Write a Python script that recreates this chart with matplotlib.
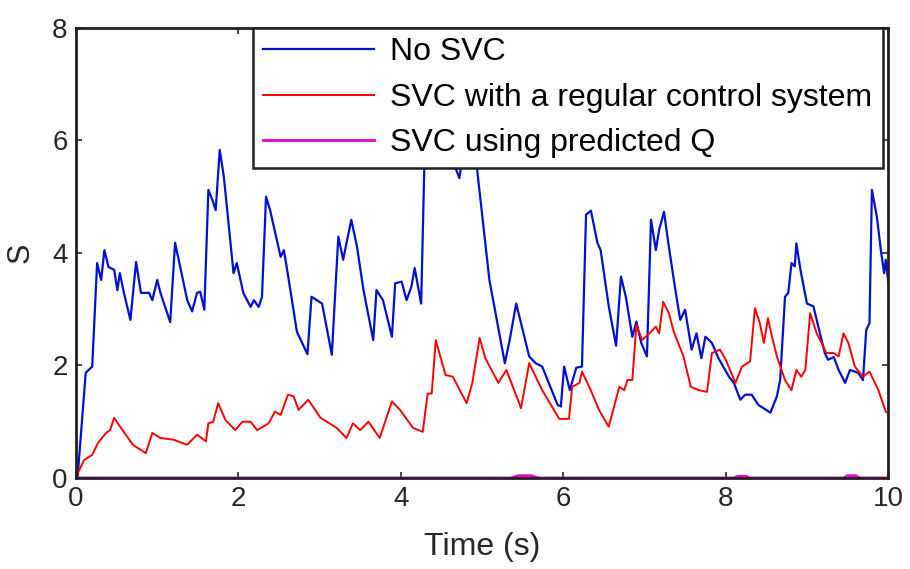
import matplotlib
matplotlib.use('Agg')
import matplotlib.pyplot as plt
import numpy as np

plt.rcParams['font.family'] = ['Liberation Sans', 'DejaVu Sans']

# blue: no SVC
t_blue = [0.0, 0.02, 0.12, 0.2, 0.26, 0.31, 0.35, 0.4, 0.47, 0.51, 0.54, 0.59, 0.67, 0.74, 0.8, 0.9,
          0.94, 1.0, 1.04, 1.16, 1.22, 1.29, 1.37, 1.43, 1.49, 1.53, 1.58, 1.63, 1.68, 1.72, 1.77,
          1.82, 1.94, 1.98, 2.06, 2.15, 2.19, 2.25, 2.29, 2.34, 2.39, 2.52, 2.56, 2.6, 2.72, 2.85,
          2.9, 3.03, 3.15, 3.23, 3.29, 3.33, 3.39, 3.46, 3.54, 3.66, 3.7, 3.78, 3.89, 3.93, 4.01,
          4.07, 4.13, 4.17, 4.25, 4.29, 4.35, 4.45, 4.55, 4.65, 4.72, 4.78, 4.93, 5.09, 5.28, 5.34,
          5.42, 5.58, 5.66, 5.74, 5.93, 5.97, 6.01, 6.08, 6.16, 6.23, 6.28, 6.34, 6.42, 6.46, 6.56,
          6.65, 6.71, 6.77, 6.85, 6.9, 6.96, 7.03, 7.08, 7.14, 7.18, 7.24, 7.3, 7.38, 7.44, 7.5,
          7.58, 7.64, 7.7, 7.75, 7.83, 7.91, 8.04, 8.1, 8.18, 8.24, 8.32, 8.4, 8.55, 8.63, 8.67,
          8.73, 8.77, 8.81, 8.85, 8.87, 8.92, 9.0, 9.08, 9.14, 9.22, 9.26, 9.33, 9.39, 9.47, 9.53,
          9.63, 9.69, 9.73, 9.77, 9.8, 9.86, 9.91, 9.95, 9.97, 10.0]
s_blue = [0.0, 0.02, 1.87, 1.98, 3.82, 3.52, 4.05, 3.75, 3.7, 3.34, 3.64, 3.29, 2.81, 3.84, 3.29, 3.29,
          3.16, 3.52, 3.29, 2.77, 4.18, 3.7, 3.16, 2.96, 3.29, 3.31, 2.99, 5.12, 4.94, 4.76, 5.83,
          5.36, 3.64, 3.82, 3.29, 3.04, 3.16, 3.04, 3.22, 5.0, 4.76, 3.93, 4.05, 3.7, 2.6, 2.2,
          3.22, 3.1, 2.19, 4.29, 3.88, 4.17, 4.59, 4.11, 3.34, 2.45, 3.34, 3.16, 2.51, 3.46, 3.49,
          3.16, 3.4, 3.73, 3.1, 5.6, 6.2, 6.0, 6.1, 5.6, 5.33, 5.9, 5.6, 3.52, 2.04, 2.45,
          3.1, 2.16, 2.04, 1.98, 1.3, 1.27, 1.98, 1.56, 1.96, 1.98, 4.68, 4.75, 4.18, 4.05, 3.05,
          2.35, 3.58, 3.22, 2.51, 2.78, 2.4, 2.16, 4.59, 4.05, 4.41, 4.73, 4.11, 3.34, 2.81, 2.99,
          2.28, 2.57, 2.13, 2.51, 2.4, 2.13, 1.8, 1.69, 1.39, 1.48, 1.48, 1.3, 1.16, 1.45, 1.74,
          3.22, 3.29, 3.82, 3.76, 4.17, 3.7, 3.1, 3.05, 2.69, 2.22, 2.1, 2.15, 1.92, 1.69, 1.92,
          1.87, 1.74, 2.63, 2.75, 5.12, 4.65, 4.05, 3.64, 3.88, 3.5]

# red: SVC with a regular control system
t_red = [0.0, 0.02, 0.1, 0.2, 0.27, 0.37, 0.42, 0.47, 0.53, 0.7, 0.86, 0.94, 1.04, 1.2, 1.37, 1.49,
         1.6, 1.63, 1.69, 1.75, 1.84, 1.96, 2.05, 2.15, 2.23, 2.37, 2.45, 2.52, 2.61, 2.68, 2.74,
         2.86, 3.01, 3.21, 3.33, 3.41, 3.5, 3.6, 3.74, 3.89, 3.99, 4.15, 4.27, 4.33, 4.38, 4.43,
         4.55, 4.64, 4.81, 4.88, 4.97, 5.04, 5.2, 5.3, 5.48, 5.58, 5.74, 5.95, 6.07, 6.11, 6.2,
         6.23, 6.32, 6.44, 6.56, 6.69, 6.75, 6.79, 6.85, 6.9, 6.97, 7.06, 7.14, 7.18, 7.23, 7.3,
         7.36, 7.48, 7.57, 7.67, 7.77, 7.83, 7.93, 8.0, 8.12, 8.2, 8.3, 8.36, 8.42, 8.47, 8.52,
         8.57, 8.63, 8.73, 8.81, 8.87, 8.93, 8.98, 9.04, 9.12, 9.18, 9.24, 9.33, 9.39, 9.45, 9.51,
         9.59, 9.69, 9.77, 9.88, 9.97, 10.0]
s_red = [0.0, 0.08, 0.32, 0.41, 0.62, 0.8, 0.85, 1.07, 0.94, 0.59, 0.44, 0.8, 0.71, 0.68, 0.59, 0.77,
         0.65, 0.97, 1.0, 1.33, 1.03, 0.85, 1.0, 1.0, 0.85, 0.97, 1.18, 1.12, 1.48, 1.45, 1.21,
         1.39, 1.07, 0.89, 0.71, 0.97, 0.85, 1.0, 0.71, 1.36, 1.21, 0.89, 0.82, 1.5, 1.5, 2.45,
         1.83, 1.8, 1.33, 1.69, 2.49, 2.13, 1.69, 1.92, 1.24, 2.04, 1.56, 1.05, 1.05, 1.62, 1.69,
         1.89, 1.62, 1.21, 0.91, 1.62, 1.56, 1.74, 1.74, 2.72, 2.45, 2.57, 2.69, 2.57, 3.13, 2.93,
         2.6, 2.16, 1.62, 1.56, 1.53, 2.22, 2.28, 2.1, 1.69, 1.98, 2.07, 3.02, 2.75, 2.4, 2.84,
         2.51, 2.16, 1.74, 1.56, 1.92, 1.8, 1.92, 2.93, 2.57, 2.4, 2.22, 2.22, 2.16, 2.57, 2.4,
         1.98, 1.8, 1.89, 1.56, 1.18, 1.15]

# magenta: SVC using predicted Q
t_mag = [0.0, 5.35, 5.45, 5.6, 5.7, 8.1, 8.15, 8.25, 8.3, 9.45, 9.5, 9.6, 9.65, 10.0]
s_mag = [0.0, 0.0, 0.04, 0.04, 0.0, 0.0, 0.03, 0.03, 0.0, 0.0, 0.04, 0.04, 0.0, 0.0]

fig = plt.figure(figsize=(9.1, 5.69), dpi=100)
ax = fig.add_axes([0.0835, 0.16, 0.8925, 0.791])

ax.plot(t_blue, s_blue, color='#0010d0', lw=1.6, label='No SVC')
ax.plot(t_red, s_red, color='#ff0000', lw=1.4, label='SVC with a regular control system')
ax.plot(t_mag, s_mag, color='#e000d0', lw=2.0, label='SVC using predicted Q')

ax.set_xlim(0, 10)
ax.set_ylim(0, 8)
ax.set_xticks([0, 2, 4, 6, 8, 10])
ax.set_yticks([0, 2, 4, 6, 8])
ax.tick_params(direction='in', length=4, width=1.2, top=True, right=True,
               labelsize=20, colors='#262626', pad=6)
for sp in ax.spines.values():
    sp.set_linewidth(2)
    sp.set_color('#202020')

ax.set_xlabel('Time (s)', fontsize=23, color='#262626', labelpad=14)
ax.set_ylabel('S', fontsize=22, color='#262626', labelpad=12)

leg = ax.legend(loc='upper left', bbox_to_anchor=(0.218, 1.0, 0.776, 0), mode='expand',
                fontsize=23, handlelength=3.5, handletextpad=0.5, labelspacing=0.48,
                borderpad=0.3, borderaxespad=0, fancybox=False, framealpha=1)
leg.get_frame().set_edgecolor('#202020')
leg.get_frame().set_linewidth(1.8)

fig.savefig('out.png', dpi=100)
